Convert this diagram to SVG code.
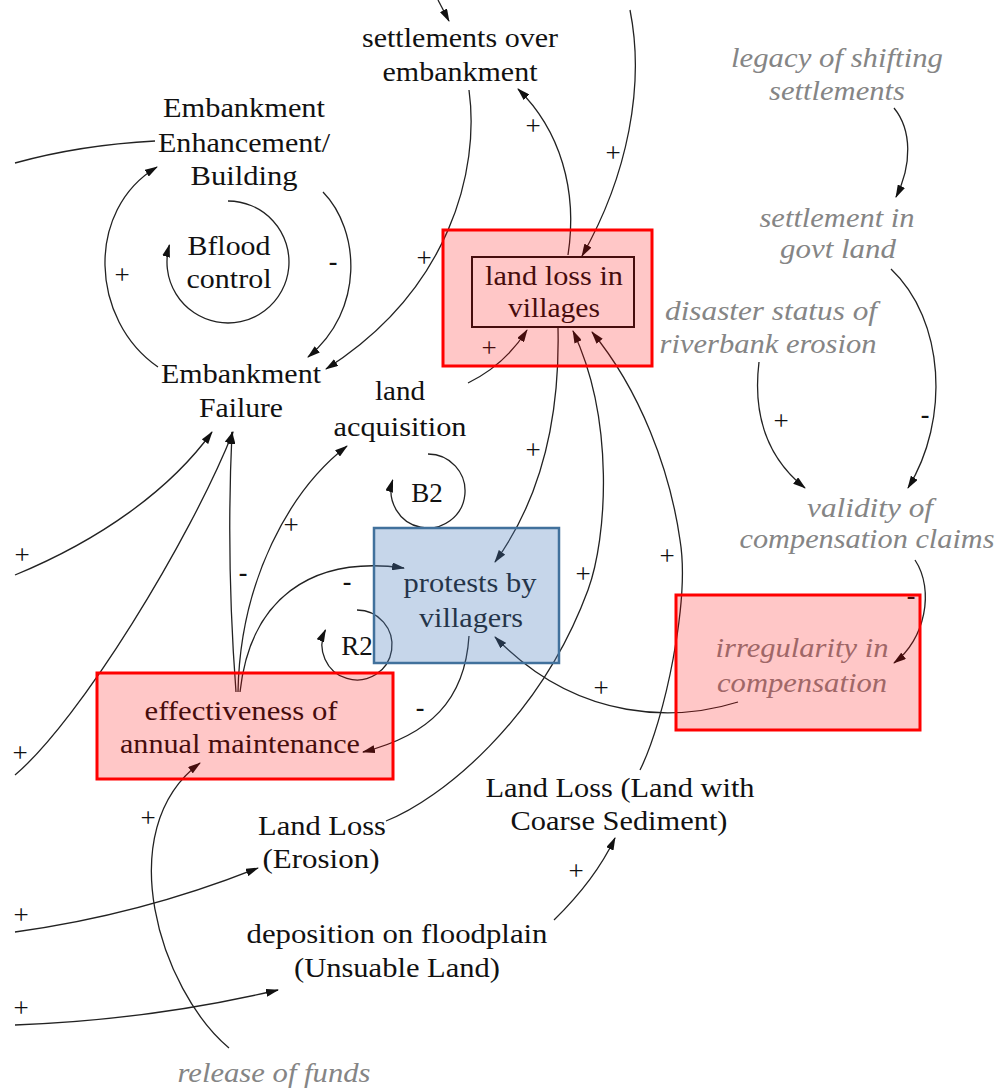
<svg xmlns="http://www.w3.org/2000/svg" width="996" height="1089" viewBox="0 0 996 1089">
<style>
.t{font-family:"Liberation Serif","Times New Roman",serif;font-size:27px;fill:#111;text-anchor:middle}
.g{font-family:"Liberation Serif","Times New Roman",serif;font-size:27px;font-style:italic;fill:#858585;text-anchor:middle}
.s{font-family:"Liberation Serif","Times New Roman",serif;font-size:27px;fill:#111;text-anchor:middle}
.m{font-family:"Liberation Serif","Times New Roman",serif;font-size:26px;font-weight:bold;fill:#111;text-anchor:middle}
.c{fill:none;stroke:#222;stroke-width:1.3}
.a{marker-end:url(#ah)}
.red{fill:#ff0000;fill-opacity:0.22;stroke:#ff0000;stroke-width:3}
.blue{fill:#4f81bd;fill-opacity:0.32;stroke:#41719c;stroke-width:2.5}
</style>
<defs>
<marker id="ah" viewBox="0 0 13 8" refX="12" refY="4" markerWidth="13" markerHeight="8" markerUnits="userSpaceOnUse" orient="auto"><path d="M0,0 L13,4 L0,8 z" fill="#111"/></marker>
</defs>
<rect width="996" height="1089" fill="#fff"/>
<g id="connectors">
<path class="c a" d="M438,0 L449,21"/>
<path class="c" d="M15,163 Q80,145 155,141"/>
<path class="c a" d="M158,367 C90,320 85,210 157,167"/>
<path class="c a" d="M323,192 C360,230 365,310 308,357"/>
<path class="c a" d="M228,201 A61,61 0 1 1 169.4,245"/>
<path class="c a" d="M469,90 C480,170 450,290 326,369"/>
<path class="c a" d="M568,255 C578,190 560,130 518,89"/>
<path class="c a" d="M630,10 C645,85 628,175 582,256"/>
<path class="c a" d="M468,383 Q505,365 527,330"/>
<path class="c a" d="M558,328 C560,420 540,500 495,562"/>
<path class="c a" d="M386,821 C440,800 540,720 588,590 C607,538 615,420 573,331"/>
<path class="c a" d="M640,770 C665,720 690,600 680,540 C670,470 640,390 592,332"/>
<path class="c a" d="M469,636 C465,700 430,735 363,752"/>
<path class="c a" d="M738,702 C680,720 580,725 495,637"/>
<path class="c a" d="M236,692 Q226,560 232,432"/>
<path class="c a" d="M15,575 C100,540 170,490 212,432"/>
<path class="c a" d="M15,775 C80,720 190,540 233,432"/>
<path class="c a" d="M238,692 C240,580 290,490 347,446"/>
<path class="c a" d="M240,692 C250,600 310,555 404,568"/>
<path class="c a" d="M428,454 A37,37 0 1 1 392.7,480"/>
<path class="c a" d="M357,610 A35,35 0 1 1 325.4,630"/>
<path class="c a" d="M759,362 C752,420 770,460 805,488"/>
<path class="c a" d="M891,269 C945,320 950,420 908,488"/>
<path class="c a" d="M894,108 C912,130 912,165 896,197"/>
<path class="c a" d="M915,560 C935,590 925,640 894,663"/>
<path class="c a" d="M229,1048 C160,990 110,830 200,763"/>
<path class="c a" d="M15,932 Q140,915 258,868"/>
<path class="c a" d="M15,1025 Q150,1020 278,990"/>
<path class="c a" d="M554,920 Q595,880 615,838"/>
</g>
<g id="polarities">
<text class="s" x="533" y="135">+</text>
<text class="s" x="613" y="162">+</text>
<text class="s" x="424" y="267">+</text>
<text class="s" x="122" y="284">+</text>
<text class="m" x="333" y="270">-</text>
<text class="s" x="489" y="357">+</text>
<text class="s" x="533" y="459">+</text>
<text class="s" x="583" y="583">+</text>
<text class="s" x="667" y="565">+</text>
<text class="s" x="601" y="697">+</text>
<text class="m" x="243" y="581">-</text>
<text class="s" x="291" y="534">+</text>
<text class="m" x="347" y="590">-</text>
<text class="m" x="420" y="716">-</text>
<text class="s" x="22" y="564">+</text>
<text class="s" x="20" y="762">+</text>
<text class="s" x="148" y="827">+</text>
<text class="s" x="21" y="924">+</text>
<text class="s" x="21" y="1017">+</text>
<text class="s" x="576" y="880">+</text>
<text class="s" x="781" y="430">+</text>
<text class="m" x="925" y="423">-</text>
<text class="m" x="911" y="604">-</text>
</g>
<g id="settlements-over-embankment">
<text class="t" x="460" y="47" textLength="196" lengthAdjust="spacingAndGlyphs">settlements over</text>
<text class="t" x="460" y="81" textLength="155" lengthAdjust="spacingAndGlyphs">embankment</text>
</g>
<g id="embankment-enhancement">
<text class="t" x="244" y="117" textLength="162" lengthAdjust="spacingAndGlyphs">Embankment</text>
<text class="t" x="244" y="152" textLength="172" lengthAdjust="spacingAndGlyphs">Enhancement/</text>
<text class="t" x="244" y="185" textLength="107" lengthAdjust="spacingAndGlyphs">Building</text>
</g>
<g id="loop-bflood">
<text class="t" x="229" y="255" textLength="83" lengthAdjust="spacingAndGlyphs">Bflood</text>
<text class="t" x="229" y="288" textLength="85" lengthAdjust="spacingAndGlyphs">control</text>
</g>
<g id="embankment-failure">
<text class="t" x="241" y="383" textLength="160" lengthAdjust="spacingAndGlyphs">Embankment</text>
<text class="t" x="241" y="417" textLength="84" lengthAdjust="spacingAndGlyphs">Failure</text>
</g>
<g id="land-acquisition">
<text class="t" x="400" y="400" textLength="50" lengthAdjust="spacingAndGlyphs">land</text>
<text class="t" x="400" y="436" textLength="133" lengthAdjust="spacingAndGlyphs">acquisition</text>
</g>
<g id="land-loss-in-villages">
<text class="t" x="554" y="285" textLength="138" lengthAdjust="spacingAndGlyphs">land loss in</text>
<text class="t" x="554" y="317" textLength="92" lengthAdjust="spacingAndGlyphs">villages</text>
<rect x="472" y="257" width="162" height="70" fill="none" stroke="#111" stroke-width="2"/>
<rect class="red" x="443" y="230" width="209" height="136"/>
</g>
<g id="loop-b2">
<text class="t" x="427" y="502">B2</text>
</g>
<g id="loop-r2">
<text class="t" x="357" y="655">R2</text>
</g>
<g id="protests-by-villagers">
<text class="t" x="470" y="592" textLength="133" lengthAdjust="spacingAndGlyphs">protests by</text>
<text class="t" x="471" y="627" textLength="104" lengthAdjust="spacingAndGlyphs">villagers</text>
<rect class="blue" x="374" y="528" width="185" height="135"/>
</g>
<g id="effectiveness-of-annual-maintenance">
<text class="t" x="241" y="720" textLength="193" lengthAdjust="spacingAndGlyphs">effectiveness of</text>
<text class="t" x="240" y="753" textLength="240" lengthAdjust="spacingAndGlyphs">annual maintenance</text>
<rect class="red" x="97" y="673" width="296" height="106"/>
</g>
<g id="land-loss-erosion">
<text class="t" x="322" y="835" textLength="128" lengthAdjust="spacingAndGlyphs">Land Loss</text>
<text class="t" x="321" y="868" textLength="117" lengthAdjust="spacingAndGlyphs">(Erosion)</text>
</g>
<g id="land-loss-coarse-sediment">
<text class="t" x="620" y="797" textLength="269" lengthAdjust="spacingAndGlyphs">Land Loss (Land with</text>
<text class="t" x="619" y="830" textLength="217" lengthAdjust="spacingAndGlyphs">Coarse Sediment)</text>
</g>
<g id="deposition-on-floodplain">
<text class="t" x="397" y="943" textLength="301" lengthAdjust="spacingAndGlyphs">deposition on floodplain</text>
<text class="t" x="397" y="977" textLength="206" lengthAdjust="spacingAndGlyphs">(Unsuable Land)</text>
</g>
<g id="legacy-of-shifting-settlements">
<text class="g" x="837" y="67" textLength="212" lengthAdjust="spacingAndGlyphs">legacy of shifting</text>
<text class="g" x="837" y="100" textLength="136" lengthAdjust="spacingAndGlyphs">settlements</text>
</g>
<g id="settlement-in-govt-land">
<text class="g" x="837" y="227" textLength="155" lengthAdjust="spacingAndGlyphs">settlement in</text>
<text class="g" x="838" y="258" textLength="116" lengthAdjust="spacingAndGlyphs">govt land</text>
</g>
<g id="disaster-status">
<text class="g" x="771" y="320" textLength="212" lengthAdjust="spacingAndGlyphs">disaster status of</text>
<text class="g" x="768" y="353" textLength="217" lengthAdjust="spacingAndGlyphs">riverbank erosion</text>
</g>
<g id="validity-of-compensation-claims">
<text class="g" x="870" y="517" textLength="126" lengthAdjust="spacingAndGlyphs">validity of</text>
<text class="g" x="867" y="548" textLength="255" lengthAdjust="spacingAndGlyphs">compensation claims</text>
</g>
<g id="irregularity-in-compensation">
<text class="g" x="802" y="657" textLength="173" lengthAdjust="spacingAndGlyphs">irregularity in</text>
<text class="g" x="802" y="692" textLength="170" lengthAdjust="spacingAndGlyphs">compensation</text>
<rect class="red" x="676" y="595" width="244" height="135"/>
</g>
<g id="release-of-funds">
<text class="g" x="274" y="1082" textLength="193" lengthAdjust="spacingAndGlyphs">release of funds</text>
</g>
</svg>
